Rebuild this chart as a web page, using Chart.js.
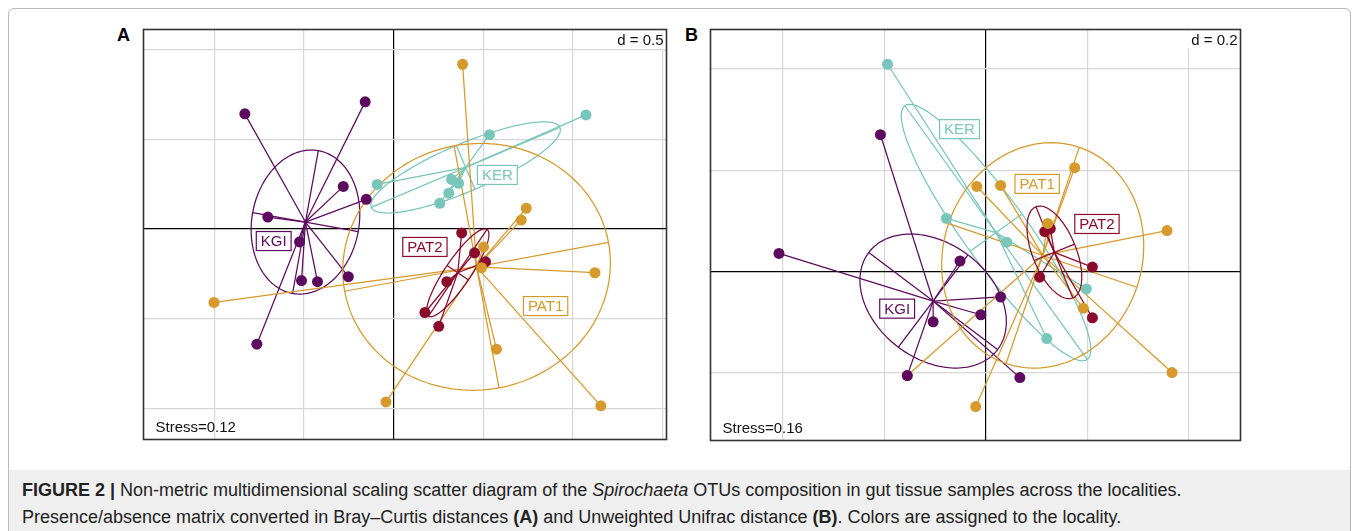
<!DOCTYPE html>
<html>
<head>
<meta charset="utf-8">
<title>NMDS Spirochaeta</title>
<script src="https://cdn.jsdelivr.net/npm/chart.js@4.4.1/dist/chart.umd.min.js"></script>
<style>
  html, body { margin: 0; padding: 0; background: #fff; }
  body { width: 1358px; height: 531px; position: relative; overflow: hidden; font-family: "Liberation Sans", Arial, sans-serif; }
  #box { position: absolute; left: 8px; top: 8px; width: 1341px; height: 530px; border: 1px solid #b9b9b9; border-radius: 6px; overflow: hidden; }
  #capbg { position: absolute; left: 0; right: 0; top: 461px; bottom: 0; background: #efefef; }
  .cap { position: absolute; left: 22px; font-size: 18px; color: #222; white-space: nowrap; }
  .letter { position: absolute; font-weight: bold; font-size: 18px; color: #000; }
  canvas { position: absolute; }
</style>
</head>
<body>
<div id="box"><div id="capbg"></div></div>
<div class="letter" style="left:117px; top:25px;">A</div>
<div class="letter" style="left:685px; top:25px;">B</div>
<canvas id="chartA" width="534" height="421" style="left:138px; top:24px;"></canvas>
<canvas id="chartB" width="541" height="422" style="left:705px; top:24px;"></canvas>
<div class="cap" style="top:480px;"><b>FIGURE 2 |</b> Non-metric multidimensional scaling scatter diagram of the <i>Spirochaeta</i> OTUs composition in gut tissue samples across the localities.</div>
<div class="cap" style="top:507px;">Presence/absence matrix converted in Bray–Curtis distances <b>(A)</b> and Unweighted Unifrac distance <b>(B)</b>. Colors are assigned to the locality.</div>

<script>
// localities, drawn in this order
const groups = ['KER', 'KGI', 'PAT1', 'PAT2'];
const groupColors = ['#78c6b9', '#5d0b5e', '#d6992c', '#8a0b2b'];

// ---- panel A : Bray-Curtis NMDS ----
const aKER = [[1.073, 0.637], [0.535, 0.527], [-0.091, 0.249], [0.324, 0.277], [0.363, 0.255], [0.308, 0.200], [0.258, 0.144]];
const aKGI = [[-0.829, 0.643], [-0.158, 0.710], [-0.280, 0.238], [-0.152, 0.166], [-0.701, 0.067],
              [-0.524, -0.072], [-0.513, -0.288], [-0.424, -0.294], [-0.252, -0.266], [-0.762, -0.643]];
const aPAT1 = [[0.385, 0.920], [0.740, 0.116], [0.712, 0.050], [-1.001, -0.410], [-0.042, -0.965],
               [1.123, -0.244], [0.574, -0.671], [1.156, -0.987], [0.502, -0.100], [0.491, -0.216]];
const aPAT2 = [[0.380, -0.022], [0.452, -0.133], [0.513, -0.183], [0.297, -0.294], [0.175, -0.466], [0.252, -0.543]];
const aCentreX = [0.402, -0.491, 0.463, 0.358];
const aCentreY = [0.344, 0.039, -0.211, -0.244];
const aEllMajor = [0.571, 0.405, 0.748, 0.292];
const aEllMinor = [0.133, 0.299, 0.687, 0.072];
const aEllAngle = [23, 79.8, 10.5, 56];
const aLabelX = [0.579, -0.668, 0.848, 0.175];
const aLabelY = [0.302, -0.067, -0.430, -0.100];
const aGridX = [-1, -0.5, 0, 0.5, 1, 1.5];
const aGridY = [-1, -0.5, 0, 0.5, 1];

// ---- panel B : unweighted Unifrac NMDS ----
const bKER = [[-0.194, 0.409], [-0.078, 0.105], [0.041, 0.058], [0.120, -0.132], [0.198, -0.034]];
const bKGI = [[-0.208, 0.270], [-0.408, 0.036], [-0.051, 0.021], [0.029, -0.050], [-0.010, -0.085],
              [-0.104, -0.099], [0.067, -0.209], [-0.155, -0.205]];
const bPAT1 = [[-0.018, 0.168], [0.029, 0.170], [0.175, 0.205], [0.357, 0.081], [0.122, 0.095],
               [0.367, -0.199], [0.192, -0.072], [-0.020, -0.266], [-0.155, -0.205]];
const bPAT2 = [[0.116, 0.079], [0.127, 0.085], [0.106, -0.011], [0.210, 0.009], [0.210, -0.091]];
const bCentreX = [0.020, -0.104, 0.112, 0.135];
const bCentreY = [0.077, -0.058, 0.032, 0.038];
const bEllMajor = [0.308, 0.159, 0.225, 0.097];
const bEllMinor = [0.063, 0.114, 0.196, 0.043];
const bEllAngle = [-54.3, -37, 71.3, -68];
const bLabelX = [-0.052, -0.175, 0.101, 0.219];
const bLabelY = [0.281, -0.073, 0.173, 0.094];
const bGridX = [-0.4, -0.2, 0, 0.2, 0.4];
const bGridY = [-0.2, 0, 0.2, 0.4];

const FONT = "15px 'Liberation Sans', Arial, sans-serif";

function groupsPlugin(p) {
  return {
    id: 'groups',
    beforeDatasetsDraw(chart) {
      const ctx = chart.ctx, a = chart.chartArea;
      const xs = chart.scales.x, ys = chart.scales.y;
      const px = v => xs.getPixelForValue(v), py = v => ys.getPixelForValue(v);
      ctx.save();
      ctx.beginPath();
      ctx.rect(a.left, a.top, a.right - a.left, a.bottom - a.top);
      ctx.clip();
      ctx.lineWidth = 1.25;
      groups.forEach((g, i) => {
        const cx = p.cx[i], cy = p.cy[i];
        ctx.strokeStyle = groupColors[i];
        // star lines centre -> samples
        p.pts[i].forEach(pt => {
          ctx.beginPath();
          ctx.moveTo(px(cx), py(cy));
          ctx.lineTo(px(pt[0]), py(pt[1]));
          ctx.stroke();
        });
        // ellipse
        const t = p.ang[i] * Math.PI / 180, ea = p.ea[i], eb = p.eb[i];
        const c = Math.cos(t), s = Math.sin(t);
        ctx.beginPath();
        for (let k = 0; k <= 160; k++) {
          const u = k / 160 * 2 * Math.PI;
          const x = cx + ea * Math.cos(u) * c - eb * Math.sin(u) * s;
          const y = cy + ea * Math.cos(u) * s + eb * Math.sin(u) * c;
          if (k === 0) ctx.moveTo(px(x), py(y)); else ctx.lineTo(px(x), py(y));
        }
        ctx.closePath();
        ctx.stroke();
        // ellipse axes
        ctx.beginPath();
        ctx.moveTo(px(cx - ea * c), py(cy - ea * s));
        ctx.lineTo(px(cx + ea * c), py(cy + ea * s));
        ctx.moveTo(px(cx + eb * s), py(cy - eb * c));
        ctx.lineTo(px(cx - eb * s), py(cy + eb * c));
        ctx.stroke();
      });
      ctx.restore();
    },
    afterDatasetsDraw(chart) {
      const ctx = chart.ctx;
      const xs = chart.scales.x, ys = chart.scales.y;
      ctx.save();
      ctx.font = FONT;
      ctx.textAlign = 'center';
      ctx.textBaseline = 'middle';
      groups.forEach((g, i) => {
        const x = xs.getPixelForValue(p.lx[i]), y = ys.getPixelForValue(p.ly[i]);
        const w = ctx.measureText(g).width + 9, h = 19;
        ctx.fillStyle = '#fff';
        ctx.fillRect(x - w / 2, y - h / 2, w, h);
        ctx.strokeStyle = groupColors[i];
        ctx.lineWidth = 1.2;
        ctx.strokeRect(x - w / 2, y - h / 2, w, h);
        ctx.fillStyle = groupColors[i];
        ctx.fillText(g, x, y + 1);
      });
      ctx.restore();
    },
    afterDraw(chart) {
      const ctx = chart.ctx, a = chart.chartArea;
      ctx.save();
      ctx.font = FONT;
      // d = ... box
      const dw = ctx.measureText(p.dText).width;
      ctx.fillStyle = '#fff';
      ctx.fillRect(a.right - dw - 8, a.top + 1, dw + 7, 18);
      ctx.fillStyle = '#111';
      ctx.textAlign = 'right';
      ctx.textBaseline = 'alphabetic';
      ctx.fillText(p.dText, a.right - 3, a.top + 15);
      ctx.textAlign = 'left';
      ctx.fillText(p.stress, a.left + 12, a.bottom - 8);
      // frame
      ctx.strokeStyle = '#333';
      ctx.lineWidth = 1.6;
      ctx.strokeRect(a.left, a.top, a.right - a.left, a.bottom - a.top);
      ctx.restore();
    }
  };
}

function makePanel(id, p) {
  const gridColor = c => (c.tick && c.tick.value === 0 ? '#000' : '#d7d7d7');
  new Chart(document.getElementById(id).getContext('2d'), {
    type: 'scatter',
    data: {
      datasets: groups.map((g, i) => ({
        label: g,
        data: p.pts[i].map(pt => ({ x: pt[0], y: pt[1] })),
        backgroundColor: groupColors[i],
        borderWidth: 0,
        pointRadius: 5.5,
        pointHoverRadius: 5.5
      }))
    },
    options: {
      responsive: false,
      animation: false,
      events: [],
      layout: { padding: 4 },
      plugins: { legend: { display: false }, tooltip: { enabled: false } },
      scales: {
        x: {
          type: 'linear', min: p.xmin, max: p.xmax,
          afterBuildTicks: s => { s.ticks = p.gx.map(v => ({ value: v })); },
          afterFit: s => { s.height = 0; },
          ticks: { display: false },
          border: { display: false },
          grid: { drawTicks: false, color: gridColor, lineWidth: 1.2 }
        },
        y: {
          type: 'linear', min: p.ymin, max: p.ymax,
          afterBuildTicks: s => { s.ticks = p.gy.map(v => ({ value: v })); },
          afterFit: s => { s.width = 0; },
          ticks: { display: false },
          border: { display: false },
          grid: { drawTicks: false, color: gridColor, lineWidth: 1.2 }
        }
      }
    },
    plugins: [groupsPlugin(p)]
  });
}

makePanel('chartA', {
  pts: [aKER, aKGI, aPAT1, aPAT2],
  cx: aCentreX, cy: aCentreY, ea: aEllMajor, eb: aEllMinor, ang: aEllAngle,
  lx: aLabelX, ly: aLabelY, gx: aGridX, gy: aGridY,
  xmin: -1.394, xmax: 1.522, ymin: -1.175, ymax: 1.114,
  dText: 'd = 0.5', stress: 'Stress=0.12'
});

makePanel('chartB', {
  pts: [bKER, bKGI, bPAT1, bPAT2],
  cx: bCentreX, cy: bCentreY, ea: bEllMajor, eb: bEllMinor, ang: bEllAngle,
  lx: bLabelX, ly: bLabelY, gx: bGridX, gy: bGridY,
  xmin: -0.543, xmax: 0.502, ymin: -0.333, ymax: 0.4775,
  dText: 'd = 0.2', stress: 'Stress=0.16'
});
</script>
</body>
</html>
